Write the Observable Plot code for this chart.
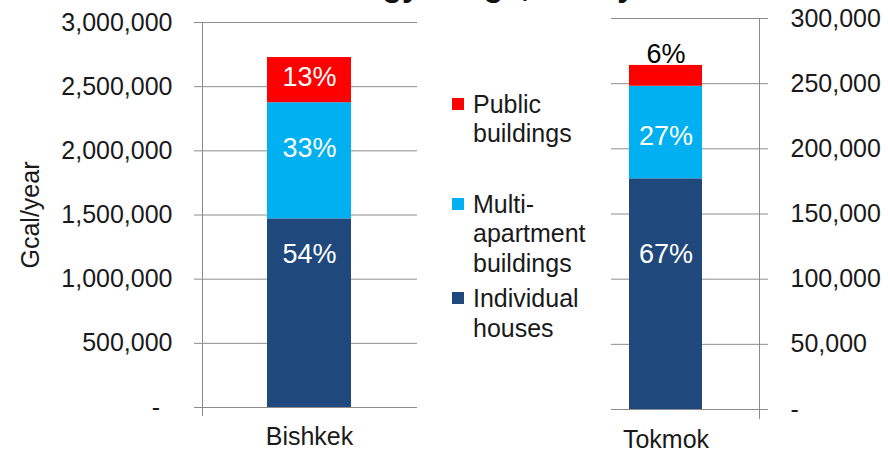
<!DOCTYPE html>
<html><head><meta charset="utf-8">
<script src="https://cdn.jsdelivr.net/npm/d3@7"></script>
<script src="https://cdn.jsdelivr.net/npm/@observablehq/plot@0.6"></script>
<style>
body{margin:0;background:#fff;font-family:"Liberation Sans",Arial,sans-serif;}
#wrap{position:relative;width:888px;height:450px;overflow:hidden;background:#fff;}
#wrap > *{position:absolute;}
.leg{left:452px;font-size:25px;line-height:29.5px;color:#1a1a1a;}
.leg .sw{position:absolute;left:0;top:8px;width:12px;height:12px;}
.leg .tx{margin-left:21px;white-space:nowrap;}
.title{font-weight:bold;font-size:32px;line-height:32px;color:#111;white-space:nowrap;}
</style></head><body><div id="wrap"></div>
<script>
const cities = ["Bishkek", "Tokmok"];
const types = ["Individual houses", "Multi-apartment buildings", "Public buildings"];
const legendOrder = [2, 1, 0];
const legendLines = [["Individual", "houses"], ["Multi-", "apartment", "buildings"], ["Public", "buildings"]];
const colors = ["#1F487C", "#00B0F0", "#FF0000"];
const bishkekValues = [1470000, 905000, 352000];
const tokmokValues = [177000, 71000, 16000];
const bishkekPct = ["54%", "33%", "13%"];
const tokmokPct = ["67%", "27%", "6%"];
const bishkekLabelAt = [1192000, 2018000, 2571000];
const tokmokLabelAt = [118900, 209400, 272300];
const bishkekLabelColor = ["white", "white", "white"];
const tokmokLabelColor = ["white", "white", "black"];
const bishkekTicks = [0, 500000, 1000000, 1500000, 2000000, 2500000, 3000000];
const tokmokTicks = [0, 50000, 100000, 150000, 200000, 250000, 300000];
const yLabel = "Gcal/year";
const titleLeft = "Heat energy usage,";
const titleRight = "Gcal/year";

const rows = (city, vals, pct, at, col) => types.map((t, i) => ({city, type: t, value: vals[i], pct: pct[i], at: at[i], col: col[i]}));
const bRows = rows(cities[0], bishkekValues, bishkekPct, bishkekLabelAt, bishkekLabelColor);
const tRows = rows(cities[1], tokmokValues, tokmokPct, tokmokLabelAt, tokmokLabelColor);

const grid = "#8c8c8c";
const ink = "#1a1a1a";
const fmt = d3.format(",");
const baseStyle = {fontFamily: "Liberation Sans, Arial, sans-serif", fontSize: "25px", color: ink, background: "transparent", overflow: "visible"};

function labels(data) {
  return [
    Plot.text(data.filter(d => d.col === "white"), {x: "city", y: "at", text: "pct", fill: "white", fontSize: 27}),
    Plot.text(data.filter(d => d.col === "black"), {x: "city", y: "at", text: "pct", fill: "black", fontSize: 27})
  ];
}

const left = Plot.plot({
  width: 440, height: 450,
  marginTop: 22, marginBottom: 43, marginLeft: 202, marginRight: 23,
  style: baseStyle,
  x: {domain: [cities[0]], padding: 0.434, align: 0.5, label: null},
  y: {domain: [0, 3000000], label: null},
  color: {domain: types, range: colors},
  marks: [
    Plot.ruleY(bishkekTicks, {stroke: grid}),
    Plot.frame({anchor: "left", stroke: grid, insetBottom: -8}),
    Plot.barY(bRows, {x: "city", y: "value", fill: "type"}),
    Plot.axisY(bishkekTicks, {anchor: "left", tickSize: 8, tickPadding: 22, stroke: grid, fill: ink, fontSize: 25, label: null,
      tickFormat: d => d === 0 ? "-\u2002" : fmt(d)}),
    Plot.axisX({tickSize: 0, tickPadding: 20, fill: ink, fontSize: 25, label: null}),
    Plot.text([yLabel], {frameAnchor: "left", rotate: -90, dx: -172, textAnchor: "middle", fontSize: 25, fill: ink}),
    ...labels(bRows)
  ]
});
left.style.left = "0px"; left.style.top = "0px";

const right = Plot.plot({
  width: 328, height: 450,
  marginTop: 18, marginBottom: 41, marginLeft: 51, marginRight: 129,
  style: baseStyle,
  x: {domain: [cities[1]], padding: 1 / 3, align: 0.243, label: null},
  y: {domain: [0, 300000], label: null},
  color: {domain: types, range: colors},
  marks: [
    Plot.ruleY(tokmokTicks, {stroke: grid}),
    Plot.frame({anchor: "right", stroke: grid, insetBottom: -9}),
    Plot.barY(tRows, {x: "city", y: "value", fill: "type"}),
    Plot.axisY(tokmokTicks, {anchor: "right", tickSize: 8, tickPadding: 23, stroke: grid, fill: ink, fontSize: 25, label: null,
      tickFormat: d => d === 0 ? "-" : fmt(d)}),
    Plot.axisX({tickSize: 0, tickPadding: 21, fill: ink, fontSize: 25, label: null}),
    ...labels(tRows)
  ]
});
right.style.left = "560px"; right.style.top = "0px";

const wrap = document.getElementById("wrap");
wrap.append(left, right);

// legend
const legTops = [89.5, 189.5, 284];
legendOrder.forEach((ti, k) => {
  const div = document.createElement("div");
  div.className = "leg";
  div.style.top = legTops[k] + "px";
  const sw = document.createElement("div");
  sw.className = "sw"; sw.style.background = colors[ti];
  const tx = document.createElement("div");
  tx.className = "tx"; tx.innerHTML = legendLines[ti].join("<br>");
  div.append(sw, tx);
  wrap.append(div);
});

// cut-off title at top
const t1 = document.createElement("div");
t1.className = "title"; t1.textContent = titleLeft;
t1.style.right = (888 - 530) + "px"; t1.style.top = "-31px";
const t2 = document.createElement("div");
t2.className = "title"; t2.textContent = titleRight;
t2.style.left = "539px"; t2.style.top = "-31px";
wrap.append(t1, t2);
</script></body></html>
